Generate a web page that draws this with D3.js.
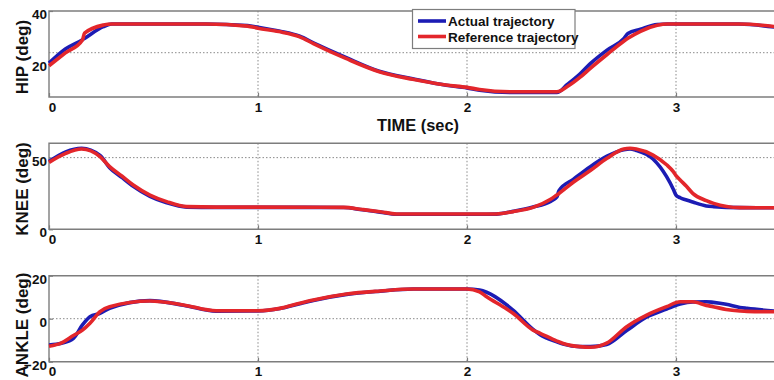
<!DOCTYPE html>
<html>
<head>
<meta charset="utf-8">
<script src="https://cdn.jsdelivr.net/npm/d3@7"></script>
<style>
  html, body { margin: 0; padding: 0; background: #fff; overflow: hidden; }
  svg { display: block; font-family: "Liberation Sans", Arial, sans-serif; font-weight: bold; }
</style>
</head>
<body>
<svg id="chart" width="774" height="380"></svg>
<script>
// ---- joint trajectories (degrees) against time (seconds) ----
const timeTicks = [0, 1, 2, 3];
const seriesNames = ["Actual trajectory", "Reference trajectory"];

const hipTime = [0, 0.08, 0.16, 0.17, 0.26, 0.3, 0.5, 0.75, 0.95, 1.0, 1.1, 1.2, 1.265, 1.42, 1.58, 1.74, 1.9, 2.0, 2.06, 2.22, 2.43, 2.48, 2.54, 2.59, 2.67, 2.75, 2.77, 2.83, 2.91, 2.96, 3.3, 3.5];
const hipReference = [19, 24, 28.9, 31.5, 34.6, 35, 35, 35, 34.2, 33.4, 32.1, 30.1, 27.5, 21.8, 16.7, 13.8, 11.6, 10.7, 9.9, 9.0, 9.0, 11.0, 14.5, 18.0, 23.3, 28.4, 29.5, 32.2, 34.5, 35, 35, 33.8];
const hipActual = [20, 25.5, 29, 29.5, 34.0, 35, 35, 35, 34.4, 33.8, 32.3, 30.3, 27.8, 22.2, 16.9, 14.0, 11.5, 10.5, 9.6, 8.7, 8.7, 11.8, 15.8, 19.8, 25.0, 29.4, 31.4, 33.0, 34.8, 35, 35, 33.5];
const hipTicks = [20, 40];
const hipGrid = [24];

const kneeTime = [0, 0.08, 0.156, 0.244, 0.29, 0.35, 0.403, 0.483, 0.563, 0.66, 0.8, 1.0, 1.41, 1.5, 1.584, 1.663, 2.0, 2.14, 2.22, 2.316, 2.40, 2.43, 2.44, 2.51, 2.59, 2.67, 2.75, 2.78, 2.81, 2.89, 2.955, 2.987, 3.0, 3.02, 3.05, 3.08, 3.145, 3.18, 3.306, 3.5];
const kneeReference = [46.7, 53, 56, 50.7, 43.7, 37, 30.9, 23.9, 19.3, 15.8, 15.5, 15.5, 15.3, 13.8, 12.3, 10.7, 10.7, 10.7, 12.3, 15.3, 21, 24, 25, 33, 41, 49.5, 56, 56.5, 56, 51.8, 45, 40.2, 37.5, 34.4, 30, 25.1, 20, 18.1, 15.1, 15];
const kneeActual = [47.3, 54, 56.5, 51.5, 43, 36, 30, 23, 18.5, 15.5, 15.3, 15.3, 15.2, 13.6, 12, 10.5, 10.5, 10.6, 12.5, 15.5, 19.5, 22.5, 27, 35, 43.7, 51, 55.5, 56, 55, 49, 36.7, 28, 23.9, 22, 20.4, 19, 16.3, 15.8, 15.1, 15];
const kneeTicks = [0, 50];
const kneeGrid = [50];

const ankleTime = [0, 0.06, 0.117, 0.16, 0.196, 0.244, 0.29, 0.483, 0.643, 0.80, 1.0, 1.105, 1.2, 1.265, 1.424, 1.584, 1.743, 2.0, 2.06, 2.094, 2.19, 2.22, 2.316, 2.35, 2.43, 2.46, 2.54, 2.59, 2.668, 2.764, 2.86, 2.955, 3.02, 3.08, 3.145, 3.178, 3.24, 3.306, 3.34, 3.5];
const ankleReference = [-12.8, -11.2, -7.8, -5.3, -2.1, 3.3, 5.6, 8.2, 6.4, 3.7, 3.7, 4.8, 7.2, 8.7, 11.5, 12.9, 13.8, 13.8, 12.5, 10.2, 4.5, 2.5, -5.3, -6.8, -10.4, -11.5, -13, -13.3, -11.4, -3.7, 1.7, 5.6, 7.9, 7.9, 6.2, 5.6, 4.3, 3.6, 3.4, 3.2];
const ankleActual = [-12.2, -11.4, -9.1, -2.9, 0.9, 2.5, 4.8, 8.4, 6.3, 3.5, 3.6, 4.7, 7.0, 8.5, 11.3, 12.8, 13.8, 13.8, 13.3, 12.3, 6.4, 4.0, -5.0, -7.5, -10.8, -11.8, -13, -13, -12, -5.5, 0.8, 4.5, 6.8, 7.8, 7.9, 7.6, 6.7, 5.2, 4.8, 3.3];
const ankleTicks = [-20, 0, 20];
const ankleGrid = [0];

// ---- layout and styling ----
const ACTUAL_COLOR = "#1c1cb4";
const REFERENCE_COLOR = "#e3262b";
const AXIS_COLOR = "#7d7d7d";
const GRID_COLOR = "#8a8a8a";
const LINE_WIDTH = 3.6;

const panels = [
  { title: "HIP (deg)", time: hipTime, reference: hipReference, actual: hipActual,
    domain: [7, 40], ticks: hipTicks, grid: hipGrid, top: 11, titleY: 57 },
  { title: "KNEE (deg)", time: kneeTime, reference: kneeReference, actual: kneeActual,
    domain: [0, 60], ticks: kneeTicks, grid: kneeGrid, top: 143.3, titleY: 189 },
  { title: "ANKLE (deg)", time: ankleTime, reference: ankleReference, actual: ankleActual,
    domain: [-20, 20], ticks: ankleTicks, grid: ankleGrid, top: 275.7, titleY: 325 }
];
const panelHeight = 86;
const left = 49;
const svgWidth = 774;

const svg = d3.select("#chart");
const x = d3.scaleLinear().domain([0, 3.5]).range([left, left + 3.5 * 209]);

panels.forEach(p => {
  const bottom = p.top + panelHeight;
  const y = d3.scaleLinear().domain(p.domain).range([bottom, p.top]);
  const g = svg.append("g");

  // dotted grid
  g.selectAll(".vgrid").data(timeTicks.filter(t => t > 0)).join("line")
    .attr("x1", d => x(d)).attr("x2", d => x(d))
    .attr("y1", p.top).attr("y2", bottom)
    .attr("stroke", GRID_COLOR).attr("stroke-width", 1).attr("stroke-dasharray", "1.5,2");
  g.selectAll(".hgrid").data(p.grid).join("line")
    .attr("x1", left).attr("x2", svgWidth)
    .attr("y1", d => y(d)).attr("y2", d => y(d))
    .attr("stroke", GRID_COLOR).attr("stroke-width", 1).attr("stroke-dasharray", "1.5,2");

  // axes with inward ticks
  const xAxis = g.append("g").attr("transform", `translate(0,${bottom})`)
    .call(d3.axisBottom(x).tickValues(timeTicks).tickFormat(d3.format("d"))
      .tickSizeInner(-4).tickSizeOuter(0).tickPadding(5));
  const yAxis = g.append("g").attr("transform", `translate(${left},0)`)
    .call(d3.axisLeft(y).tickValues(p.ticks).tickFormat(d3.format("d"))
      .tickSizeInner(-4).tickSizeOuter(0).tickPadding(2));
  [xAxis, yAxis].forEach(a => {
    a.select(".domain").remove();
    a.selectAll(".tick line").attr("stroke", AXIS_COLOR).attr("stroke-width", 1.2);
    a.selectAll(".tick text").attr("fill", "#111").style("font-size", "13.5px")
      .style("font-weight", "bold").style("font-family", "'Liberation Sans', Arial, sans-serif");
  });
  yAxis.selectAll(".tick text").attr("dy", "0.55em");
  // the origin label sits just right of the corner
  xAxis.selectAll(".tick text").filter(d => d === 0).attr("dx", 3);

  // frame (left, top, bottom)
  g.append("path")
    .attr("d", `M${svgWidth},${p.top}H${left}V${bottom}H${svgWidth}`)
    .attr("fill", "none").attr("stroke", AXIS_COLOR).attr("stroke-width", 1.4);

  // trajectories: actual first, reference on top
  const line = values => d3.line()
    .x((d, i) => x(p.time[i]))
    .y(d => y(d))
    .curve(d3.curveMonotoneX)(values);
  g.append("path").attr("d", line(p.actual))
    .attr("fill", "none").attr("stroke", ACTUAL_COLOR).attr("stroke-width", LINE_WIDTH)
    .attr("stroke-linejoin", "round");
  g.append("path").attr("d", line(p.reference))
    .attr("fill", "none").attr("stroke", REFERENCE_COLOR).attr("stroke-width", LINE_WIDTH)
    .attr("stroke-linejoin", "round");

  // y axis title
  svg.append("text")
    .attr("transform", `translate(27.5,${p.titleY}) rotate(-90)`)
    .attr("text-anchor", "middle")
    .style("font-size", "17px").attr("fill", "#111")
    .text(p.title);
});

// time axis title under the hip panel
svg.append("text")
  .attr("x", 418).attr("y", 131)
  .attr("text-anchor", "middle")
  .attr("textLength", 82).attr("lengthAdjust", "spacingAndGlyphs")
  .style("font-size", "17px").attr("fill", "#111")
  .text("TIME (sec)");

// legend
const legend = svg.append("g");
legend.append("rect")
  .attr("x", 412.5).attr("y", 9.5).attr("width", 162.5).attr("height", 39)
  .attr("fill", "#fff").attr("stroke", AXIS_COLOR).attr("stroke-width", 1.2);
const legendColors = [ACTUAL_COLOR, REFERENCE_COLOR];
seriesNames.forEach((name, i) => {
  const cy = 21 + i * 15.5;
  legend.append("line")
    .attr("x1", 418).attr("x2", 446).attr("y1", cy).attr("y2", cy)
    .attr("stroke", legendColors[i]).attr("stroke-width", LINE_WIDTH);
  legend.append("text")
    .attr("x", 448).attr("y", cy + 5.3)
    .style("font-size", "13.5px").attr("fill", "#111")
    .text(name);
});
</script>
</body>
</html>
